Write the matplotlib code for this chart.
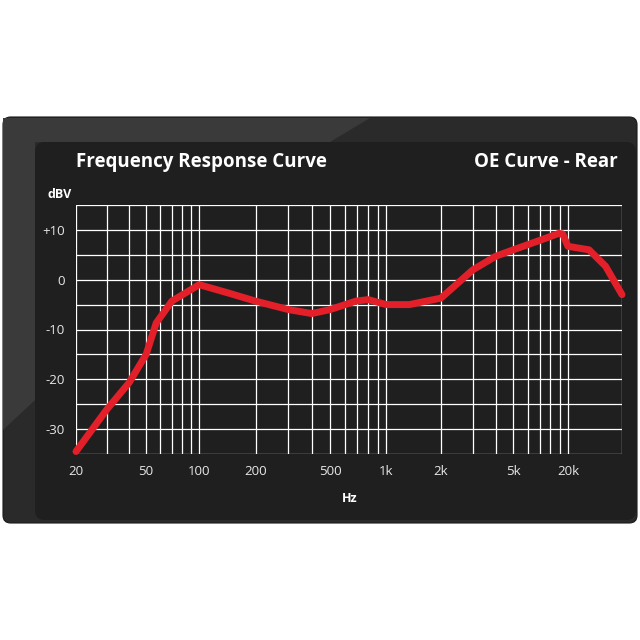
import numpy as np
import matplotlib
matplotlib.use('Agg')
import matplotlib.pyplot as plt
from matplotlib.patches import FancyBboxPatch, Polygon

# curve
freq = [20, 30, 40, 50, 57, 70, 100, 144, 200, 300, 400, 500, 689, 800, 1000, 1340,
        2000, 3000, 4000, 5000, 7000, 8900, 9350, 10000, 13100, 16200, 20000]
dbv = [-34.5, -26, -20.7, -15, -8.7, -4.3, -1, -2.7, -4.3, -6, -6.8, -6, -4.3, -4,
       -5, -5, -3.7, 2, 4.7, 6, 7.9, 9.3, 9.2, 6.7, 6, 2.7, -3]

grid_f = [20, 30, 40, 50, 60, 70, 80, 90, 100, 200, 300, 400, 500, 600, 700, 800, 900,
          1000, 2000, 3000, 4000, 5000, 6000, 7000, 8000, 9000, 10000, 20000]
tick_f = [20, 50, 100, 200, 500, 1000, 2000, 5000, 10000]
tick_lbl = ['20', '50', '100', '200', '500', '1k', '2k', '5k', '20k']
y_ticks = [10, 0, -10, -20, -30]
y_lbl = ['+10', '0', '-10', '-20', '-30']

# the printed axis is piecewise logarithmic, decades of unequal width
LOGS = [np.log10(20), 2, 3, 4, np.log10(20000)]
POS = [0, 301, 758, 1202, 1334]

def fwd(f):
    f = np.clip(np.asarray(f, dtype=float), 1e-9, None)
    return np.interp(np.log10(f), LOGS, POS)

def inv(p):
    return 10 ** np.interp(np.asarray(p, dtype=float), POS, LOGS)

plt.rcParams['font.family'] = ['Open Sans', 'DejaVu Sans']
fig = plt.figure(figsize=(6.4, 6.4), dpi=100)
fig.patch.set_facecolor('white')

# panel background
W, H = 640, 640
outer = FancyBboxPatch((3 / W, 1 - 523 / H), 634 / W, 406 / H,
                       boxstyle='round,pad=0,rounding_size=0.012',
                       transform=fig.transFigure, fc='#2a2a2a', ec='#1a1a1a', lw=0.8, zorder=-3)
fig.patches.append(outer)
band = Polygon([(3 / W, 1 - 118 / H), (370 / W, 1 - 118 / H), (330 / W, 1 - 142 / H),
                (35 / W, 1 - 142 / H), (35 / W, 1 - 400 / H), (3 / W, 1 - 430 / H)],
               closed=True, transform=fig.transFigure, fc='#3a3a3a', ec='none', zorder=-2)
fig.patches.append(band)
inner = FancyBboxPatch((35 / W, 1 - 520 / H), 601 / W, 378 / H,
                       boxstyle='round,pad=0,rounding_size=0.015',
                       transform=fig.transFigure, fc='#1f1f1f', ec='none', zorder=-1)
fig.patches.append(inner)

ax = fig.add_axes([76 / W, 1 - 454 / H, 546 / W, 249 / H])
ax.set_zorder(5)
ax.set_facecolor('none')
ax.set_xscale('function', functions=(fwd, inv))
ax.set_xlim(20, 20000)
ax.set_ylim(-35, 15)

for f in grid_f:
    ax.axvline(f, color='white', lw=0.9, zorder=1)
for y in range(-35, 16, 5):
    ax.axhline(y, color='white', lw=0.9, zorder=1)

ax.plot(freq, dbv, color='#e3202a', lw=5, solid_capstyle='round',
        solid_joinstyle='round', zorder=3, clip_on=False)

ax.set_xticks(tick_f)
ax.set_xticklabels(tick_lbl)
ax.xaxis.set_minor_locator(matplotlib.ticker.NullLocator())
ax.set_yticks(y_ticks)
ax.set_yticklabels(y_lbl)
ax.tick_params(length=0, colors='#e8e8e8', labelsize=9.5, pad=8)
for s in ax.spines.values():
    s.set_visible(False)

fig.text(76 / W, 1 - 162 / H, 'Frequency Response Curve', color='white',
         fontsize=13.5, fontweight='bold', va='center', ha='left')
fig.text(618 / W, 1 - 162 / H, 'OE Curve - Rear', color='white',
         fontsize=13.5, fontweight='bold', va='center', ha='right')
fig.text(48 / W, 1 - 195 / H, 'dBV', color='white', fontsize=9, fontweight='bold',
         va='center', ha='left')
fig.text(350 / W, 1 - 498 / H, 'Hz', color='white', fontsize=9, fontweight='bold',
         va='center', ha='center')

plt.savefig('out.png', dpi=100)
